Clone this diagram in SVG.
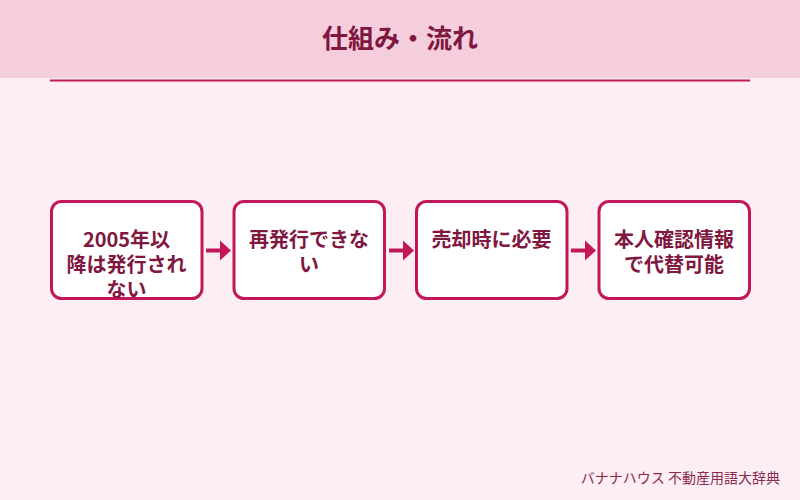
<svg xmlns="http://www.w3.org/2000/svg" width="800" height="500" viewBox="0 0 800 500">
<style>
.box{fill:#ffffff;stroke:#c2185b;stroke-width:3}
.t{font-family:"Noto Sans CJK JP","Noto Sans",sans-serif;font-weight:bold;font-size:20px;fill:#7f1740;text-anchor:middle}
.conn{stroke:#c2185b;stroke-width:4;fill:none}
.head{fill:#c2185b}
</style>
<rect x="0" y="0" width="800" height="500" fill="#fdeef3"/>
<rect x="0" y="0" width="800" height="78" fill="#f5cedd"/>
<line x1="50" y1="80.5" x2="750" y2="80.5" stroke="#c2185b" stroke-width="2"/>
<text x="400" y="48" font-family="'Noto Sans CJK JP','Noto Sans',sans-serif" font-weight="bold" font-size="26" fill="#7f1740" text-anchor="middle">仕組み・流れ</text>
<g id="connectors">
<line class="conn" x1="206" y1="250.5" x2="221" y2="250.5"/>
<polygon class="head" points="220,240.5 231,250.5 220,260.5"/>
<line class="conn" x1="389" y1="250.5" x2="404" y2="250.5"/>
<polygon class="head" points="403,240.5 414,250.5 403,260.5"/>
<line class="conn" x1="571" y1="250.5" x2="586" y2="250.5"/>
<polygon class="head" points="585,240.5 596,250.5 585,260.5"/>
</g>
<g id="node1">
<rect class="box" x="51.5" y="201.5" width="150.5" height="97" rx="10"/>
<text class="t" x="126.5" y="247">2005年以</text>
<text class="t" x="126.5" y="272">降は発行され</text>
<text class="t" x="126.5" y="297">ない</text>
</g>
<g id="node2">
<rect class="box" x="234" y="201.5" width="150.5" height="97" rx="10"/>
<text class="t" x="309" y="247">再発行できな</text>
<text class="t" x="309" y="272">い</text>
</g>
<g id="node3">
<rect class="box" x="416.5" y="201.5" width="150.5" height="97" rx="10"/>
<text class="t" x="491.5" y="247">売却時に必要</text>
</g>
<g id="node4">
<rect class="box" x="599" y="201.5" width="150.5" height="97" rx="10"/>
<text class="t" x="674" y="247">本人確認情報</text>
<text class="t" x="674" y="272">で代替可能</text>
</g>
<text x="780" y="483" font-family="'Noto Sans CJK JP','Noto Sans',sans-serif" font-size="14" fill="#8b2a50" text-anchor="end">バナナハウス 不動産用語大辞典</text>
</svg>
